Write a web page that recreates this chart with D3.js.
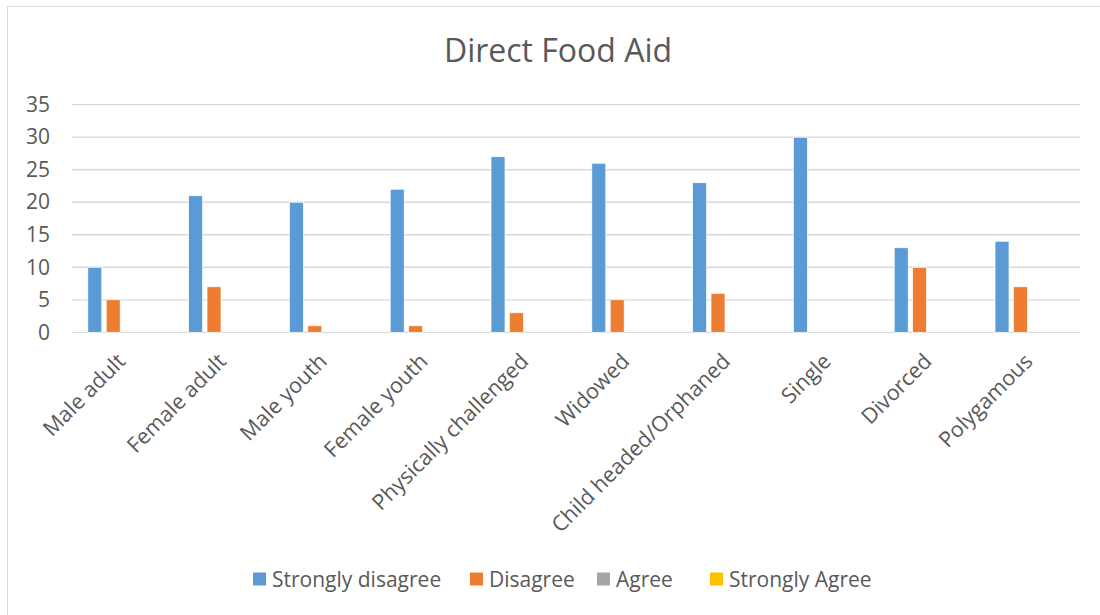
<!DOCTYPE html>
<html>
<head>
<meta charset="utf-8">
<script src="https://cdn.jsdelivr.net/npm/d3@7"></script>
<style>
  body { margin: 0; background: #fff; }
  text { font-family: "Open Sans", sans-serif; fill: #595959; }
</style>
</head>
<body>
<div id="chart"></div>
<script>
// categories and series values
var categories = ["Male adult", "Female adult", "Male youth", "Female youth",
  "Physically challenged", "Widowed", "Child headed/Orphaned", "Single",
  "Divorced", "Polygamous"];
var seriesNames = ["Strongly disagree", "Disagree", "Agree", "Strongly Agree"];
var stronglyDisagree = [10, 21, 20, 22, 27, 26, 23, 30, 13, 14];
var disagree = [5, 7, 1, 1, 3, 5, 6, 0, 10, 7];
var agree = [0, 0, 0, 0, 0, 0, 0, 0, 0, 0];
var stronglyAgree = [0, 0, 0, 0, 0, 0, 0, 0, 0, 0];
var yTicks = [0, 5, 10, 15, 20, 25, 30, 35];

var colors = ["#5b9bd5", "#ed7d31", "#a5a5a5", "#ffc000"];
var values = [stronglyDisagree, disagree, agree, stronglyAgree];

var W = 1100, H = 615;
var margin = {top: 104.7, left: 72};
var width = 1080 - margin.left,
    height = 332.3 - margin.top;

var svg = d3.select("#chart").append("svg")
    .attr("width", W)
    .attr("height", H);

// chart border
svg.append("rect")
    .attr("x", 7.5).attr("y", 6.5)
    .attr("width", 1100).attr("height", 640)
    .attr("fill", "none")
    .attr("stroke", "#d9d9d9")
    .attr("stroke-width", 1);

svg.append("text")
    .attr("x", 558).attr("y", 62)
    .attr("text-anchor", "middle")
    .style("font-size", "32px")
    .text("Direct Food Aid");

var g = svg.append("g")
    .attr("transform", "translate(" + margin.left + "," + margin.top + ")");

var x0 = d3.scaleBand()
    .domain(categories)
    .range([0, width])
    .paddingInner(0.27)
    .paddingOuter(0.135);

var x1 = d3.scaleBand()
    .domain(seriesNames)
    .range([0, x0.bandwidth()])
    .paddingInner(0.24)
    .paddingOuter(0.12);

var y = d3.scaleLinear()
    .domain([0, 35])
    .range([height, 0]);

// gridlines
g.append("g")
    .selectAll("line")
    .data(yTicks)
    .join("line")
    .attr("x1", 0).attr("x2", width)
    .attr("y1", function(d) { return y(d); })
    .attr("y2", function(d) { return y(d); })
    .attr("stroke", "#d9d9d9")
    .attr("stroke-width", 1.3);

// y axis labels
var yAxis = g.append("g")
    .call(d3.axisLeft(y).tickValues(yTicks).tickSize(0).tickPadding(22));
yAxis.select(".domain").remove();
yAxis.selectAll("text")
    .style("font-size", "21px")
    .style("font-family", "'Open Sans', sans-serif")
    .attr("fill", "#595959");

// bars
var rows = categories.map(function(c, i) {
  return {cat: c, vals: seriesNames.map(function(s, j) {
    return {series: s, value: values[j][i], color: colors[j]};
  })};
});

g.append("g")
  .selectAll("g")
  .data(rows)
  .join("g")
    .attr("transform", function(d) { return "translate(" + x0(d.cat) + ",0)"; })
  .selectAll("rect")
  .data(function(d) { return d.vals.filter(function(v) { return v.value > 0; }); })
  .join("rect")
    .attr("x", function(d) { return x1(d.series); })
    .attr("y", function(d) { return y(d.value); })
    .attr("width", x1.bandwidth())
    .attr("height", function(d) { return height - y(d.value); })
    .attr("fill", function(d) { return d.color; })
    .attr("stroke", "#fff")
    .attr("stroke-width", 0.7);

// x axis labels, rotated
var xAxis = g.append("g")
    .attr("transform", "translate(0," + height + ")")
    .call(d3.axisBottom(x0).tickSize(0).tickPadding(0));
xAxis.select(".domain").remove();
xAxis.selectAll("text")
    .style("font-size", "21.5px")
    .style("font-family", "'Open Sans', sans-serif")
    .attr("fill", "#595959")
    .attr("text-anchor", "end")
    .attr("dy", "0.35em")
    .attr("transform", "translate(-1,25) rotate(-45)");

// legend
var legendX = [253, 470, 597, 710];
var legend = svg.append("g")
  .selectAll("g")
  .data(seriesNames)
  .join("g")
    .attr("transform", function(d, i) { return "translate(" + legendX[i] + ",572.5)"; });
legend.append("rect")
    .attr("width", 13).attr("height", 13)
    .attr("fill", function(d, i) { return colors[i]; });
legend.append("text")
    .attr("x", 19).attr("y", 14)
    .style("font-size", "21px")
    .text(function(d) { return d; });
</script>
</body>
</html>
